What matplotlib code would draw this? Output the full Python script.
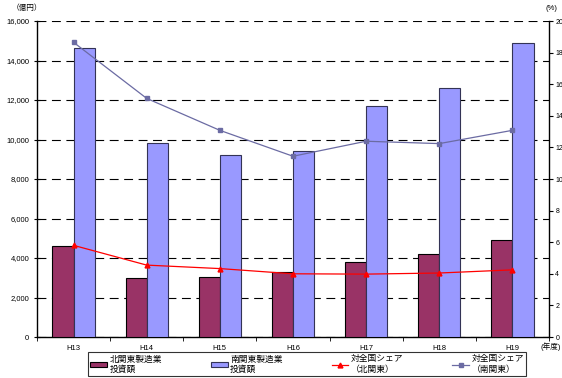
import matplotlib.pyplot as plt
import matplotlib.ticker as mticker
from matplotlib.patches import Patch
from matplotlib.lines import Line2D
import numpy as np

plt.rcParams['font.family'] = ['Liberation Sans', 'Noto Sans CJK JP', 'DejaVu Sans']

years = ['H13', 'H14', 'H15', 'H16', 'H17', 'H18', 'H19']
# 製造業投資額（億円）
north_invest = [4600, 2980, 3050, 3310, 3780, 4190, 4890]
south_invest = [14650, 9810, 9200, 9430, 11710, 12590, 14900]
# 対全国シェア（%）
north_share = [5.8, 4.55, 4.33, 4.0, 3.98, 4.05, 4.25]
south_share = [18.65, 15.1, 13.08, 11.44, 12.39, 12.24, 13.08]

c_north = '#993366'
c_south = '#9999FF'
c_nline = '#FF0000'
c_sline = '#6B6BA3'

fig = plt.figure(figsize=(5.62, 3.78), dpi=100)
ax = fig.add_axes([37 / 562, 1 - 337 / 378, 512 / 562, 316 / 378])
x = np.arange(len(years))
w = 0.29

ax.bar(x - w / 2, north_invest, w, color=c_north, edgecolor='black', linewidth=0.8, zorder=3)
ax.bar(x + w / 2, south_invest, w, color=c_south, edgecolor='#333355', linewidth=0.8, zorder=3)

ax.set_xlim(-0.5, len(years) - 0.5)
ax.set_ylim(0, 16000)
ax.set_yticks(np.arange(0, 16001, 2000))
ax.yaxis.set_major_formatter(mticker.FuncFormatter(lambda v, p: f'{int(v):,}'))
ax.grid(axis='y', color='black', linestyle=(0, (8, 5)), linewidth=0.8, zorder=0)
ax.set_xticks(x)
ax.set_xticklabels(years)
ax.set_xticks(np.arange(-0.5, len(years)), minor=True)
ax.tick_params(axis='x', which='major', length=0, labelsize=5.5, pad=6)
ax.tick_params(axis='x', which='minor', length=3, direction='out', width=0.6)
ax.tick_params(axis='y', direction='inout', length=5, width=0.8, labelsize=5.5, pad=3)
ax.spines['top'].set_visible(False)
ax.spines['right'].set_visible(False)
for s in ('left', 'bottom'):
    ax.spines[s].set_linewidth(1.0)

ax2 = ax.twinx()
ax2.plot(x, south_share, color=c_sline, linewidth=0.9, marker='s', markersize=3.5, zorder=4)
ax2.plot(x, north_share, color=c_nline, linewidth=0.9, marker='^', markersize=3.5, zorder=4)
ax2.set_ylim(0, 20)
ax2.set_yticks(np.arange(0, 21, 2))
ax2.tick_params(axis='y', direction='out', length=3, width=0.8, labelsize=5, pad=1.5)
ax2.spines['top'].set_visible(False)
ax2.spines['left'].set_visible(False)
ax2.spines['bottom'].set_visible(False)
ax2.spines['right'].set_linewidth(1.0)

fig.text(12 / 562, 1 - 8 / 378, '（億円）', fontsize=5.5, va='center')
fig.text(557 / 562, 1 - 8 / 378, '(%)', fontsize=5.5, va='center', ha='right')
fig.text(561 / 562, 1 - 347 / 378, '(年度)', fontsize=5.5, va='center', ha='right')

handles = [
    Patch(facecolor=c_north, edgecolor='black', linewidth=0.8),
    Patch(facecolor=c_south, edgecolor='#333355', linewidth=0.8),
    Line2D([], [], color=c_nline, marker='^', markersize=3.5, linewidth=0.9),
    Line2D([], [], color=c_sline, marker='s', markersize=3.5, linewidth=0.9),
]
labels = ['北関東製造業\n投資額', '南関東製造業\n投資額', '対全国シェア\n（北関東）', '対全国シェア\n（南関東）']
leg = fig.legend(handles, labels, ncol=4, loc='lower left',
                 bbox_to_anchor=(88 / 562, 2 / 378),
                 fontsize=6.3, frameon=True, fancybox=False, borderaxespad=0,
                 handlelength=1.9, handleheight=0.6, handletextpad=0.3,
                 labelspacing=0.1, borderpad=0.25, columnspacing=5.6)
leg.get_frame().set_edgecolor('black')
leg.get_frame().set_linewidth(0.8)

fig.savefig('out.png', dpi=100)
